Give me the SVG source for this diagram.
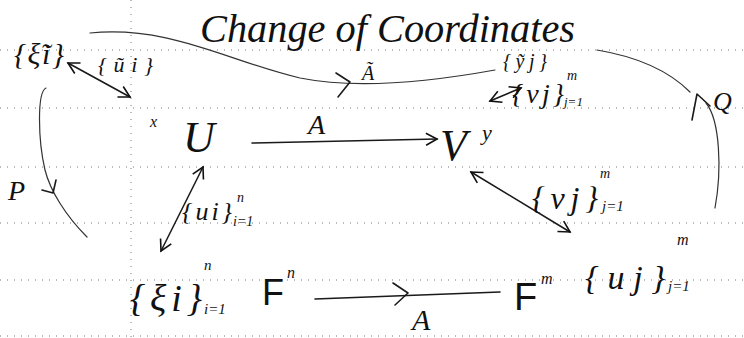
<svg xmlns="http://www.w3.org/2000/svg" width="744" height="338" viewBox="0 0 744 338">
<style>
.grid{stroke:#777;stroke-width:1;stroke-dasharray:1 6;fill:none}
.ln{stroke:#1a1a1a;stroke-width:1.6;fill:none;stroke-linecap:round;stroke-linejoin:round}
.thin{stroke:#333;stroke-width:1.2;fill:none;stroke-linecap:round}
.t{font-family:"Liberation Serif",serif;font-style:italic;fill:#111}
.s{font-family:"Liberation Sans",sans-serif;fill:#111}
</style>
<defs>
<marker id="ah" viewBox="0 0 14 14" refX="12" refY="7" markerWidth="14" markerHeight="14" markerUnits="userSpaceOnUse" orient="auto-start-reverse">
<path d="M1 1 L12 7 L1 13" fill="none" stroke="#111" stroke-width="1.6"/>
</marker>
</defs>
<rect width="744" height="338" fill="#fff"/>
<g id="grid">
<path class="grid" d="M0 50H744M0 108H744M0 167H744M0 223H744M0 280H744M0 336H744M131 0V338"/>
</g>
<g id="title"><text class="t" x="200" y="42" font-size="40" textLength="375" lengthAdjust="spacingAndGlyphs">Change of Coordinates</text></g>
<g id="connectors">
<line class="ln" x1="68" y1="63" x2="130" y2="97" marker-start="url(#ah)" marker-end="url(#ah)"/>
<path class="thin" d="M90 33 C170 25 230 62 300 78 C360 90 440 80 495 70"/>
<path class="ln" d="M336 73 L350 82 L338 97"/>
<line class="ln" x1="490" y1="101" x2="521" y2="88" marker-start="url(#ah)" marker-end="url(#ah)"/>
<path class="thin" d="M597 50 C645 58 672 74 690 92"/>
<path class="ln" d="M692 120 L697 94 L710 106"/>
<path class="thin" d="M706 103 C720 120 722 170 715 208"/>
<path class="thin" d="M46 88 C37 92 38 140 45 170 C50 190 65 215 87 237"/>
<path class="ln" d="M42 190 L53 193 L56 180"/>
<line class="ln" x1="252" y1="143" x2="437" y2="139" marker-end="url(#ah)"/>
<line class="ln" x1="471" y1="172" x2="570" y2="232" marker-start="url(#ah)" marker-end="url(#ah)"/>
<line class="ln" x1="203" y1="167" x2="161" y2="251" marker-start="url(#ah)" marker-end="url(#ah)"/>
<line class="ln" x1="315" y1="299" x2="500" y2="292"/>
<path class="ln" d="M393 283 L408 293 L395 305"/>
<text class="t" x="362" y="80" font-size="20">Ã</text>
<text class="t" x="308" y="134" font-size="28">A</text>
<text class="t" x="713" y="110" font-size="26">Q</text>
<text class="t" x="8" y="200" font-size="28">P</text>
<text class="t" x="412" y="330" font-size="30">A</text>
</g>
<g id="xi-tilde"><text class="t" x="14" y="64" font-size="30" textLength="50" lengthAdjust="spacing">{ξ̃i}</text></g>
<g id="u-tilde"><text class="t" x="98" y="72" font-size="22" textLength="55" lengthAdjust="spacing">{ũi}</text></g>
<g id="y-tilde-v"><text class="t" x="503" y="68" font-size="20" textLength="44" lengthAdjust="spacing">{ỹj}</text>
<text class="t" x="512" y="103" font-size="28" textLength="52" lengthAdjust="spacing">{vj}</text><text class="t" x="567" y="80" font-size="14">m</text><text class="t" x="564" y="106" font-size="13">j=1</text></g>
<g id="U"><text class="t" x="150" y="127" font-size="16">x</text><text class="t" x="183" y="152" font-size="44">U</text></g>
<g id="V"><text class="t" x="440" y="160" font-size="44">V</text><text class="t" x="482" y="140" font-size="22">y</text></g>
<g id="v-basis"><text class="t" x="532" y="209" font-size="32" textLength="66" lengthAdjust="spacing">{vj}</text><text class="t" x="600" y="178" font-size="14">m</text><text class="t" x="602" y="211" font-size="15">j=1</text></g>
<g id="u-basis"><text class="t" x="182" y="220" font-size="26" textLength="50" lengthAdjust="spacing">{ui}</text><text class="t" x="237" y="202" font-size="14">n</text><text class="t" x="233" y="226" font-size="14">i=1</text></g>
<g id="xi-basis"><text class="t" x="130" y="311" font-size="38" textLength="72" lengthAdjust="spacing">{ξi}</text><text class="t" x="204" y="270" font-size="15">n</text><text class="t" x="204" y="314" font-size="15">i=1</text></g>
<g id="Fn"><text class="s" x="262" y="305" font-size="36">F</text><text class="t" x="287" y="278" font-size="16">n</text></g>
<g id="Fm"><text class="s" x="514" y="310" font-size="38">F</text><text class="t" x="541" y="284" font-size="16">m</text></g>
<g id="u-j-basis"><text class="t" x="585" y="289" font-size="34" textLength="80" lengthAdjust="spacing">{uj}</text><text class="t" x="677" y="245" font-size="16">m</text><text class="t" x="668" y="291" font-size="15">j=1</text></g>
</svg>
